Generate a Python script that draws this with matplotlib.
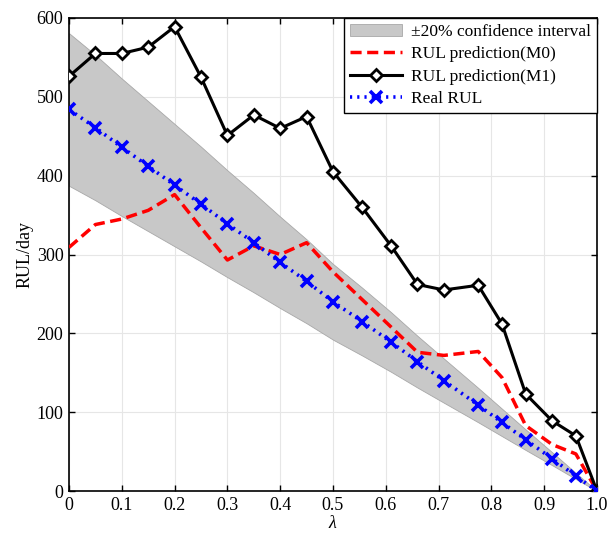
import matplotlib
matplotlib.use("Agg")
import matplotlib.pyplot as plt
import numpy as np

plt.rcParams['font.family'] = ['Liberation Serif', 'DejaVu Serif']
plt.rcParams['mathtext.fontset'] = 'custom'
plt.rcParams['mathtext.it'] = 'Liberation Serif:italic'

lam = [0, 0.05, 0.1, 0.15, 0.2, 0.25, 0.3, 0.35, 0.4, 0.45, 0.5,
       0.555, 0.61, 0.66, 0.71, 0.775, 0.82, 0.865, 0.915, 0.96, 1.0]
real_rul = [484, 461, 436, 412, 388, 364, 339, 315, 290, 266, 240,
            215, 189, 164, 140, 109, 87, 65, 41, 19, 0]
m0 = [309, 338, 345, 356, 376, 334, 293, 311, 300, 315, 278,
      243, 208, 176, 172, 177, 144, 83, 59, 47, 0]
m1 = [526, 555, 555, 563, 589, 525, 451, 477, 460, 475, 405,
      360, 311, 262, 255, 261, 212, 123, 89, 70, 0]
ci_ratio = 0.2

xticks = [0, 0.1, 0.2, 0.3, 0.4, 0.5, 0.6, 0.7, 0.8, 0.9, 1.0]
xticklabels = ['0', '0.1', '0.2', '0.3', '0.4', '0.5', '0.6', '0.7', '0.8', '0.9', '1.0']
yticks = [0, 100, 200, 300, 400, 500, 600]

fig = plt.figure(figsize=(6.10, 5.33), dpi=100)
ax = fig.add_axes([69/610, 1-491/533, (597-69)/610, (491-18)/533])

r = np.array(real_rul, dtype=float)
ax.fill_between(lam, r*(1-ci_ratio), r*(1+ci_ratio), facecolor='#C8C8C8',
                edgecolor='#A8A8A8', linewidth=0.6, label='±20% confidence interval', zorder=1)
ax.plot(lam, m0, color='#FF0000', linestyle=(0, (3.2, 1.6)), linewidth=2.5,
        label='RUL prediction(M0)', zorder=3)
ax.plot(lam, m1, color='black', linewidth=2.2, marker='D', markersize=6,
        markerfacecolor='white', markeredgecolor='black', markeredgewidth=2,
        label='RUL prediction(M1)', zorder=4)
ax.plot(lam, real_rul, color='#0000FF', linestyle=(0, (0.6, 1.4)), linewidth=2.6,
        marker='x', markersize=9, markeredgewidth=2.6,
        label='Real RUL', zorder=5)

ax.set_xlim(0, 1.0)
ax.set_ylim(0, 600)
ax.set_xticks(xticks)
ax.set_xticklabels(xticklabels)
ax.set_yticks(yticks)
ax.tick_params(direction='in', length=4, width=1, top=True, right=True,
               labelsize=13, colors='black', pad=4)
ax.grid(True, color='#E6E6E6', linewidth=0.8)
ax.set_axisbelow(True)
for s in ax.spines.values():
    s.set_linewidth(1.2)

ax.set_xlabel(r'$\mathit{\lambda}$', fontsize=13, labelpad=1)
ax.set_ylabel('RUL/day', fontsize=13, labelpad=2)

leg = ax.legend(loc='upper right', fontsize=12.5, frameon=True, fancybox=False,
                edgecolor='black', framealpha=1, borderaxespad=0,
                handlelength=3.0, handletextpad=0.5, labelspacing=0.35,
                borderpad=0.35)
leg.get_frame().set_linewidth(1.0)

fig.savefig('out.png', dpi=100)
